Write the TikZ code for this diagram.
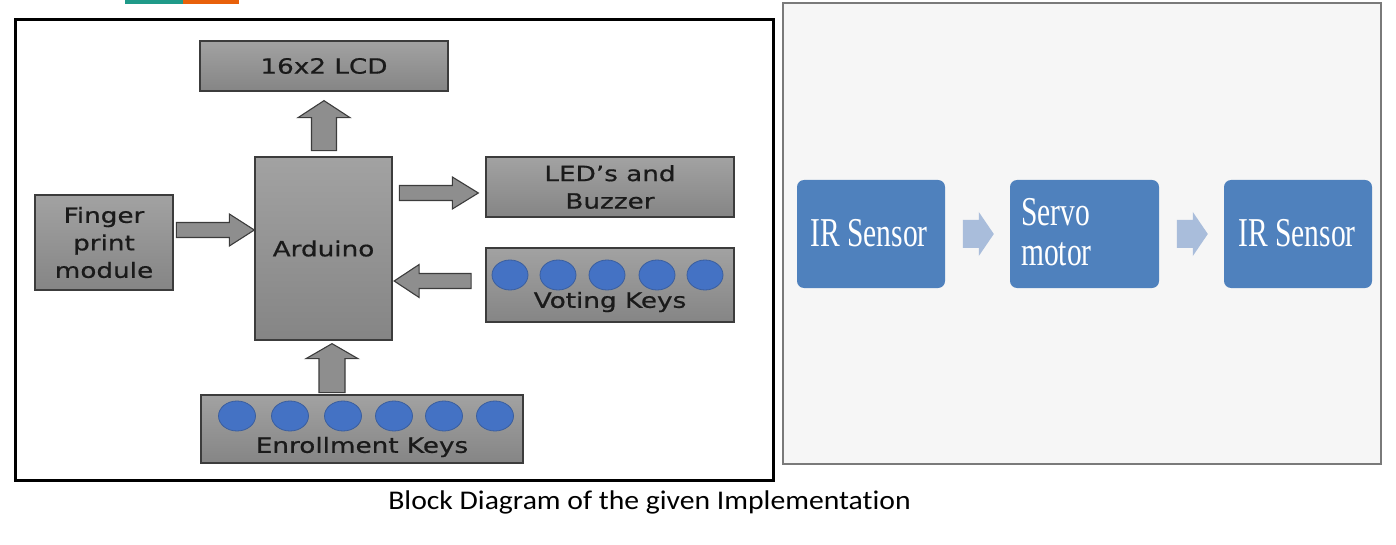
\documentclass[tikz,border=0pt]{standalone}
\usepackage{fontspec}
\usetikzlibrary{calc,shapes.geometric}
\newfontfamily\gfont[FakeStretch=1.25,FakeBold=0.6]{DejaVu Sans}
\newfontfamily\bfont[FakeStretch=0.72]{Liberation Serif}
\newfontfamily\cfont[FakeStretch=1.1,Ligatures={NoCommon}]{Carlito}
\definecolor{gtop}{HTML}{A2A2A2}
\definecolor{gbot}{HTML}{858585}
\definecolor{gedge}{HTML}{3C3C3C}
\definecolor{gtext}{HTML}{1A1A1A}
\definecolor{afill}{HTML}{8E8E8E}
\definecolor{keyblue}{HTML}{4472C4}
\definecolor{keyedge}{HTML}{3A5E9E}
\definecolor{officeblue}{HTML}{4F81BD}
\definecolor{lightarrow}{HTML}{A9BDDB}
\definecolor{panelbg}{HTML}{F6F6F6}
\definecolor{paneledge}{HTML}{7A7A7A}
\definecolor{tealbar}{HTML}{1F9A89}
\definecolor{orangebar}{HTML}{E8600A}
\tikzset{
  gbox/.style={draw=gedge, line width=1.3pt, top color=gtop, bottom color=gbot,
    inner sep=0pt, text=gtext, align=center,
    font=\gfont\fontsize{21}{27.5}\selectfont},
  gtxt/.style={inner sep=0pt, text=gtext, font=\gfont\fontsize{21}{27.5}\selectfont},
  keycirc/.style={ellipse, draw=keyedge, line width=0.8pt, fill=keyblue,
    minimum width=37, minimum height=30, inner sep=0pt},
  barrow/.style={draw=gedge, line width=1.1pt, fill=afill, line join=miter},
  bbox/.style={fill=officeblue, rounded corners=7pt, inner sep=0pt,
    minimum width=148, minimum height=108},
  btxt/.style={text=white, inner sep=0pt, align=left,
    font=\bfont\fontsize{41}{40}\selectfont},
  larrow/.style={fill=lightarrow}
}
\begin{document}
\begin{tikzpicture}[x=1pt,y=-1pt]
\useasboundingbox (0,0) rectangle (1396,545);
% top coloured bars
\fill[tealbar] (125,0) rectangle (183,4);
\fill[orangebar] (183,0) rectangle (239,4);
% left frame
\draw[black, line width=3pt] (15,19.5) rectangle (773.5,480);
% right panel
\draw[paneledge, line width=1.6pt, fill=panelbg] (783,3) rectangle (1381,464);

% gray boxes
\node[gbox, minimum width=248, minimum height=50] (lcd) at (324,66) {16x2 LCD};
\node[gbox, minimum width=137, minimum height=183] (ard) at (323.5,248.5) {Arduino};
\node[gbox, minimum width=138, minimum height=95] (fp) at (104,242.5) {Finger\\print\\module};
\node[gbox, minimum width=248, minimum height=60] (led) at (610,187) {LED’s and\\Buzzer};
\node[gbox, minimum width=248, minimum height=74] (vote) at (610,285) {};
\node[gtxt] (votet) at (610,302) {Voting Keys};
\foreach \i/\x in {1/510,2/558,3/607,4/657,5/705}
  \node[keycirc, minimum width=36] (vk\i) at (\x,275) {};
\node[gbox, minimum width=322, minimum height=68] (enr) at (362,429) {};
\node[gtxt] (enrt) at (362,447) {Enrollment Keys};
\foreach \i/\x in {1/237,2/290,3/343,4/394,5/444,6/495}
  \node[keycirc] (ek\i) at (\x,416) {};

% block arrows
\coordinate (t1) at ([yshift=18.5pt]ard.west);
\draw[barrow] (t1) -- ++(-25,-16) -- ++(0,8.5) -- ++(-53,0) -- ++(0,15) -- ++(53,0) -- ++(0,8.5) -- cycle;
\coordinate (t2) at ([yshift=-9pt]lcd.south);
\draw[barrow] (t2) -- ++(26,17) -- ++(-13.5,0) -- ++(0,33) -- ++(-25,0) -- ++(0,-33) -- ++(-13.5,0) -- cycle;
\coordinate (t3) at ([xshift=-7pt,yshift=-6pt]led.west);
\draw[barrow] (t3) -- ++(-26,-16) -- ++(0,8.5) -- ++(-53,0) -- ++(0,15) -- ++(53,0) -- ++(0,8.5) -- cycle;
\coordinate (t4) at ([xshift=1.5pt,yshift=-32.5pt]ard.east);
\draw[barrow] (t4) -- ++(25,-16.5) -- ++(0,9) -- ++(52,0) -- ++(0,15) -- ++(-52,0) -- ++(0,9) -- cycle;
\coordinate (t5) at ([xshift=8.5pt,yshift=-3pt]ard.south);
\draw[barrow] (t5) -- ++(26,15) -- ++(-13,0) -- ++(0,34) -- ++(-26,0) -- ++(0,-34) -- ++(-13,0) -- cycle;

% caption
\node[inner sep=0pt, font=\cfont\fontsize{27}{30}\selectfont] (cap) at (649.5,502) {Block Diagram of the given Implementation};

% right panel flow
\node[bbox] (b1) at (871,234) {};
\node[btxt] (b1t) at (869,233) {IR Sensor};
\node[bbox, minimum width=149] (b2) at (1084.5,234) {};
\node[btxt, anchor=north west] (b2t) at (1021,198) {Servo\\motor};
\node[bbox] (b3) at (1298,234) {};
\node[btxt] (b3t) at (1297,233) {IR Sensor};
\coordinate (la1) at ([xshift=-16pt]b2.west);
\fill[larrow] (la1) -- ++(-15,-22) -- ++(0,8) -- ++(-16,0) -- ++(0,28) -- ++(16,0) -- ++(0,8) -- cycle;
\coordinate (la2) at ([xshift=-16pt]b3.west);
\fill[larrow] (la2) -- ++(-15,-22) -- ++(0,8) -- ++(-16,0) -- ++(0,28) -- ++(16,0) -- ++(0,8) -- cycle;
\end{tikzpicture}
\end{document}
